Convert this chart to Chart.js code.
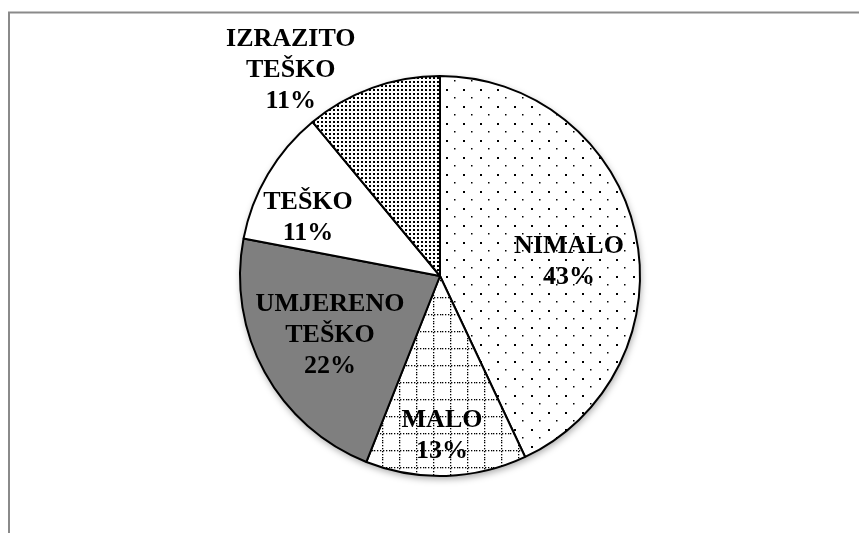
<!DOCTYPE html>
<html>
<head>
<meta charset="utf-8">
<script src="https://cdn.jsdelivr.net/npm/chart.js@4/dist/chart.umd.min.js"></script>
<style>
  html, body { margin: 0; padding: 0; background: #fff; }
  #wrap { position: relative; width: 859px; height: 533px; }
</style>
</head>
<body>
<div id="wrap"><canvas id="c" width="859" height="533"></canvas></div>
<script>
// ---- data ----
const categories = ["NIMALO", "MALO", "UMJERENO TEŠKO", "TEŠKO", "IZRAZITO TEŠKO"];
const labelLines = [["NIMALO"], ["MALO"], ["UMJERENO", "TEŠKO"], ["TEŠKO"], ["IZRAZITO", "TEŠKO"]];
const percentages = [43, 13, 22, 11, 11];

// ---- patterns ----
function makePattern(w, h, draw) {
  const c = document.createElement('canvas');
  c.width = w; c.height = h;
  const g = c.getContext('2d');
  g.fillStyle = '#fff'; g.fillRect(0, 0, w, h);
  g.fillStyle = '#000';
  draw(g);
  return g.createPattern(c, 'repeat');
}
const sparseDots = makePattern(17, 17, g => {
  g.fillRect(4, 4, 2, 2);
  g.fillRect(12, 12, 1.5, 1.5);
});
const gridDots = makePattern(17, 17, g => {
  for (let i = 0; i < 17; i += 3) { g.fillRect(i, 8, 1.3, 1.3); g.fillRect(8, i, 1.3, 1.3); }
});
const denseDots = makePattern(4, 4, g => {
  g.fillRect(1, 1, 2, 2);
});
const fills = [sparseDots, gridDots, '#7f7f7f', '#ffffff', denseDots];

// label anchors relative to pie centre, in units of the radius
const labelAnchors = [[0.645, -0.07], [0.01, 0.80], [-0.55, 0.297], [-0.66, -0.29], [-0.746, -1.03]];

const framePlugin = {
  id: 'frame',
  beforeDraw(chart) {
    const ctx = chart.ctx;
    ctx.save();
    ctx.strokeStyle = '#8a8a8a';
    ctx.lineWidth = 2;
    ctx.beginPath();
    ctx.moveTo(9, 540);
    ctx.lineTo(9, 12.5);
    ctx.lineTo(870, 12.5);
    ctx.stroke();
    ctx.restore();
  },
  beforeDatasetsDraw(chart) {
    const arc = chart.getDatasetMeta(0).data[0];
    if (!arc) return;
    const ctx = chart.ctx;
    ctx.save();
    ctx.shadowColor = 'rgba(0,0,0,0.35)';
    ctx.shadowBlur = 7;
    ctx.shadowOffsetX = 1;
    ctx.shadowOffsetY = 3;
    ctx.fillStyle = '#fff';
    ctx.beginPath();
    ctx.arc(arc.x, arc.y, arc.outerRadius, 0, Math.PI * 2);
    ctx.fill();
    ctx.restore();
  }
};

const labelPlugin = {
  id: 'sliceLabels',
  afterDatasetsDraw(chart) {
    const ctx = chart.ctx;
    const meta = chart.getDatasetMeta(0);
    ctx.save();
    ctx.font = 'bold 26px "Liberation Serif", "Times New Roman", serif';
    ctx.fillStyle = '#000';
    ctx.textAlign = 'center';
    ctx.textBaseline = 'middle';
    const lh = 31;
    meta.data.forEach((arc, i) => {
      const r = arc.outerRadius;
      const cx = arc.x + labelAnchors[i][0] * r;
      const cy = arc.y + labelAnchors[i][1] * r;
      const lines = labelLines[i].concat([percentages[i] + '%']);
      const y0 = cy - (lines.length - 1) * lh / 2;
      lines.forEach((t, k) => ctx.fillText(t, cx, y0 + k * lh));
    });
    ctx.restore();
  }
};

new Chart(document.getElementById('c'), {
  type: 'pie',
  data: {
    labels: categories,
    datasets: [{
      data: percentages,
      backgroundColor: fills,
      borderColor: '#000',
      borderWidth: 2,
      hoverOffset: 0
    }]
  },
  options: {
    responsive: false,
    animation: false,
    maintainAspectRatio: false,
    layout: { padding: { top: 75, bottom: 56, left: 21, right: 0 } },
    plugins: {
      legend: { display: false },
      tooltip: { enabled: false },
      title: { display: false }
    }
  },
  plugins: [framePlugin, labelPlugin]
});
</script>
</body>
</html>
